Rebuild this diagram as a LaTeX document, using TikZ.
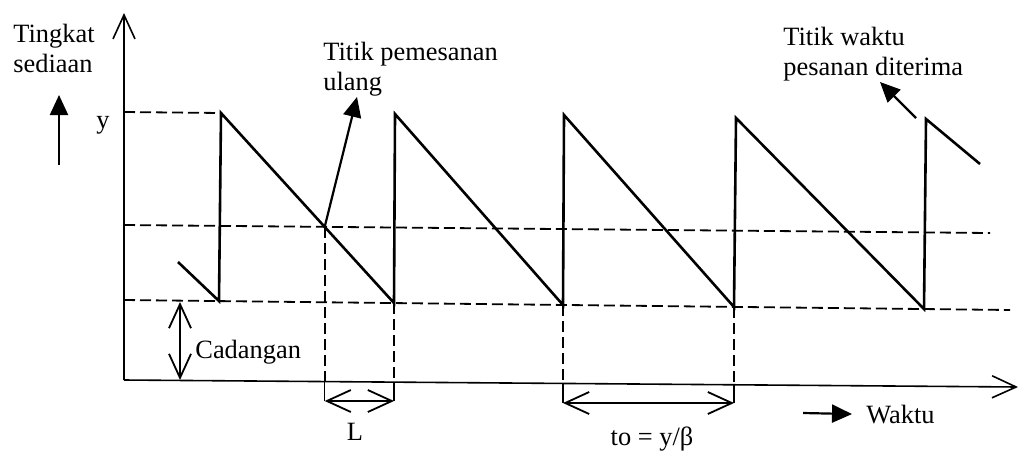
\documentclass[tikz,border=0pt]{standalone}
\usepackage{fontspec}
\setmainfont{Liberation Serif}
\usetikzlibrary{arrows.meta}

\begin{document}
\begin{tikzpicture}[x=0.5pt, y=-0.5pt,
    axis/.style={line width=0.8pt, -{Straight Barb[length=12pt, width=11pt]}},
    saw/.style={line width=1.3pt, line join=miter},
    dashln/.style={line width=0.9pt, dash pattern=on 5.5pt off 2.5pt},
    tickln/.style={line width=0.8pt},
    dim/.style={line width=0.9pt, {Straight Barb[length=12pt, width=11pt]}-{Straight Barb[length=12pt, width=11pt]}},
    pointer/.style={line width=1.1pt, -{Triangle[length=10pt, width=9pt]}},
    lbl/.style={inner sep=0pt, font=\fontsize{13.2}{15}\selectfont, align=left}
]
\useasboundingbox (0,0) rectangle (1020,450);

% axes
\coordinate (o) at (124,380);
\coordinate (ytop) at (124,13);
\coordinate (xend) at (1018,387);
\draw[axis] (o) -- (ytop);
\draw[axis] (o) -- (xend);

% sawtooth
\coordinate (s0) at (178,262);
\coordinate (b1) at (219,301);
\coordinate (p1) at (221,113);
\coordinate (b2) at (394,303);
\coordinate (p2) at (395,114);
\coordinate (b3) at (563,305);
\coordinate (p3) at (564,115);
\coordinate (b4) at (734,307);
\coordinate (p4) at (736,118);
\coordinate (b5) at (924,309);
\coordinate (p5) at (926,119);
\coordinate (e5) at (980,164);
\draw[saw] (s0) -- (b1) -- (p1) -- (b2) -- (p2) -- (b3) -- (p3) -- (b4) -- (p4) -- (b5) -- (p5) -- (e5);

% levels
\coordinate (ytl) at (124,112);
\coordinate (r1) at (124,225);
\coordinate (r2) at (990,233);
\coordinate (c1) at (124,300);
\coordinate (c2) at (1010,310);
\draw[dashln] (ytl) -- (p1);
\draw[dashln] (r1) -- (r2);
\draw[dashln] (c1) -- (c2);
\coordinate (rp) at (intersection of p1--b2 and r1--r2);

% L
\coordinate (la) at (rp |- 0,401);
\coordinate (lb) at (b2 |- 0,401);
\draw[dashln] (rp) -- (rp |- 0,381);
\draw[dashln] (b2) -- (b2 |- 0,382);
\draw[tickln] (rp |- 0,381) -- (la);
\draw[tickln] (b2 |- 0,382) -- (lb);
\draw[dim] (la) -- (lb);

% to
\coordinate (ta) at (b3 |- 0,403);
\coordinate (tb) at (b4 |- 0,403);
\draw[dashln] (b3) -- (b3 |- 0,383);
\draw[dashln] (b4) -- (b4 |- 0,385);
\draw[tickln] (b3 |- 0,383) -- (ta);
\draw[tickln] (b4 |- 0,385) -- (tb);
\draw[dim] (ta) -- (tb);

% Cadangan
\coordinate (cs1) at (180,302);
\coordinate (cs2) at (180,380);
\draw[dim] (cs1) -- (cs2);

% labels
\node[lbl, anchor=north west] (lvl) at (13,24) {Tingkat\\sediaan};
\node[lbl, anchor=base] (ylbl) at (103,128) {y};
\node[lbl, anchor=north west] (rop) at (323,42) {Titik pemesanan\\ulang};
\node[lbl, anchor=north west] (rcv) at (783,27) {Titik waktu\\pesanan diterima};
\node[lbl, anchor=base west] (ss) at (195,358) {Cadangan};
\node[lbl, anchor=base] (lt) at (355,440) {L};
\node[lbl, anchor=base] (tcyc) at (652,445) {to = y/β};
\node[lbl, anchor=base west] (wkt) at (866,423) {Waktu};

% pointers
\coordinate (up0) at (59,165);
\coordinate (up1) at (59,95);
\draw[pointer] (up0) -- (up1);
\coordinate (rptip) at (357,97);
\draw[pointer] (rp) -- (rptip);
\coordinate (dl0) at (916,118);
\coordinate (dltip) at (880,82);
\draw[pointer] (dl0) -- (dltip);
\coordinate (wa) at (803,413);
\draw[pointer] (wa) -- ([xshift=-7pt]wkt.west);

\end{tikzpicture}
\end{document}
